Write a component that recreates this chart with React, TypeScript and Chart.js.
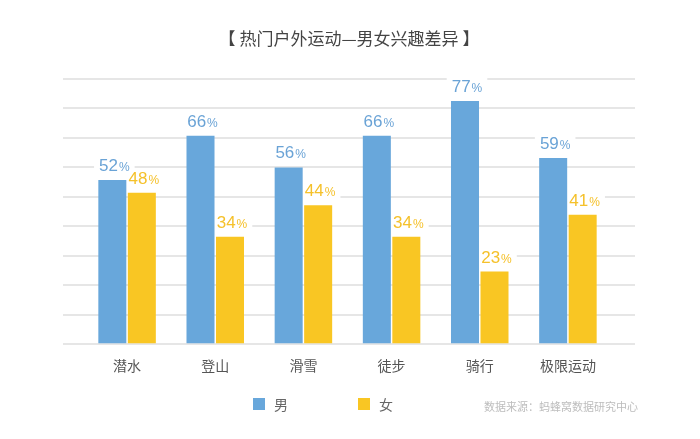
import { useEffect, useRef } from 'react'
import { Chart, registerables } from 'chart.js'

Chart.register(...registerables)

const categories = ['潜水', '登山', '滑雪', '徒步', '骑行', '极限运动']
const maleValues = [52, 66, 56, 66, 77, 59]
const femaleValues = [48, 34, 44, 34, 23, 41]
const seriesNames = ['男', '女']
const yMax = 84
const gridCount = 10

const title = '【 热门户外运动—男女兴趣差异 】'
const sourceNote = '数据来源：蚂蜂窝数据研究中心'

const BLUE = '#68a7db'
const YELLOW = '#f9c623'
const labelColors = ['#6aa3d6', '#f5c12a']
const GRID = '#e6e6e6'
const CJK = '"Noto Sans CJK SC", sans-serif'
const NUM = '"Liberation Sans", Arial, sans-serif'

function labelBox(ctx: CanvasRenderingContext2D, value: number) {
  ctx.font = `17px ${NUM}`
  const w1 = ctx.measureText(String(value)).width
  ctx.font = `12px ${NUM}`
  const w2 = ctx.measureText('%').width
  return { w1, w2, total: w1 + 1 + w2 }
}

const valueLabels = {
  id: 'valueLabels',
  // white patch behind each value label so the grid line breaks around it
  beforeDatasetsDraw(chart: any) {
    const ctx = chart.ctx
    ctx.save()
    chart.data.datasets.forEach((ds: any, i: number) => {
      chart.getDatasetMeta(i).data.forEach((bar: any, j: number) => {
        const { total } = labelBox(ctx, ds.data[j])
        const x0 = bar.x + 2 - total / 2
        const y = bar.y - 9
        ctx.fillStyle = '#fff'
        ctx.fillRect(x0 - 5, y - 15, total + 10, 18)
      })
    })
    ctx.restore()
  },
  afterDatasetsDraw(chart: any) {
    const ctx = chart.ctx
    ctx.save()
    ctx.textAlign = 'left'
    ctx.textBaseline = 'alphabetic'
    chart.data.datasets.forEach((ds: any, i: number) => {
      chart.getDatasetMeta(i).data.forEach((bar: any, j: number) => {
        const v = ds.data[j]
        const { w1, total } = labelBox(ctx, v)
        const x0 = bar.x + 2 - total / 2
        const y = bar.y - 9
        ctx.fillStyle = labelColors[i]
        ctx.font = `17px ${NUM}`
        ctx.fillText(String(v), x0, y)
        ctx.font = `12px ${NUM}`
        ctx.fillText('%', x0 + w1 + 1, y)
      })
    })
    ctx.restore()
  },
  afterDraw(chart: any) {
    const ctx = chart.ctx
    ctx.save()
    ctx.textBaseline = 'middle'
    ctx.textAlign = 'left'
    const starts = [253, 358]
    chart.data.datasets.forEach((ds: any, i: number) => {
      ctx.fillStyle = ds.backgroundColor
      ctx.fillRect(starts[i], 398, 12, 12)
      ctx.fillStyle = '#666'
      ctx.font = `14px ${CJK}`
      ctx.fillText(ds.label, starts[i] + 21, 405)
    })
    ctx.fillStyle = '#bdbdbd'
    ctx.font = `11px ${CJK}`
    ctx.fillText(sourceNote, 484, 407)
    ctx.restore()
  },
}

function BarChart() {
  const chartRef = useRef<HTMLCanvasElement>(null)

  useEffect(() => {
    if (!chartRef.current) return
    const chart = new Chart(chartRef.current, {
      type: 'bar',
      data: {
        labels: categories,
        datasets: [
          {
            label: seriesNames[0],
            data: maleValues,
            backgroundColor: BLUE,
            categoryPercentage: 0.669,
            barPercentage: 0.95,
          },
          {
            label: seriesNames[1],
            data: femaleValues,
            backgroundColor: YELLOW,
            categoryPercentage: 0.669,
            barPercentage: 0.95,
          },
        ],
      },
      options: {
        animation: false,
        responsive: true,
        maintainAspectRatio: false,
        layout: { padding: { top: 28, left: 63, right: 65, bottom: 52 } },
        plugins: {
          legend: { display: false },
          tooltip: { enabled: false },
          title: {
            display: true,
            text: title,
            color: '#444',
            font: { size: 17, family: CJK, weight: 'normal' },
            padding: { top: 0, bottom: 30.6 },
          },
        },
        scales: {
          x: {
            grid: { display: false, drawTicks: false },
            border: { display: false },
            ticks: { color: '#555', font: { size: 14, family: CJK }, padding: 13 },
          },
          y: {
            min: 0,
            max: yMax,
            ticks: { display: false, count: gridCount },
            grid: { color: GRID, lineWidth: 2, drawTicks: true, tickLength: 20 },
            border: { display: false },
          },
          yRight: {
            position: 'right',
            min: 0,
            max: yMax,
            ticks: { display: false, count: gridCount },
            grid: { color: GRID, lineWidth: 2, drawOnChartArea: false, drawTicks: true, tickLength: 23 },
            border: { display: false },
          },
        },
      },
      plugins: [valueLabels],
    })

    return () => {
      chart.destroy()
    }
  }, [])

  return <canvas ref={chartRef} />
}

export default function App() {
  return (
    <div style={{ position: 'absolute', left: 0, top: 0, width: 700, height: 439, background: '#fff' }}>
      <BarChart />
    </div>
  )
}
